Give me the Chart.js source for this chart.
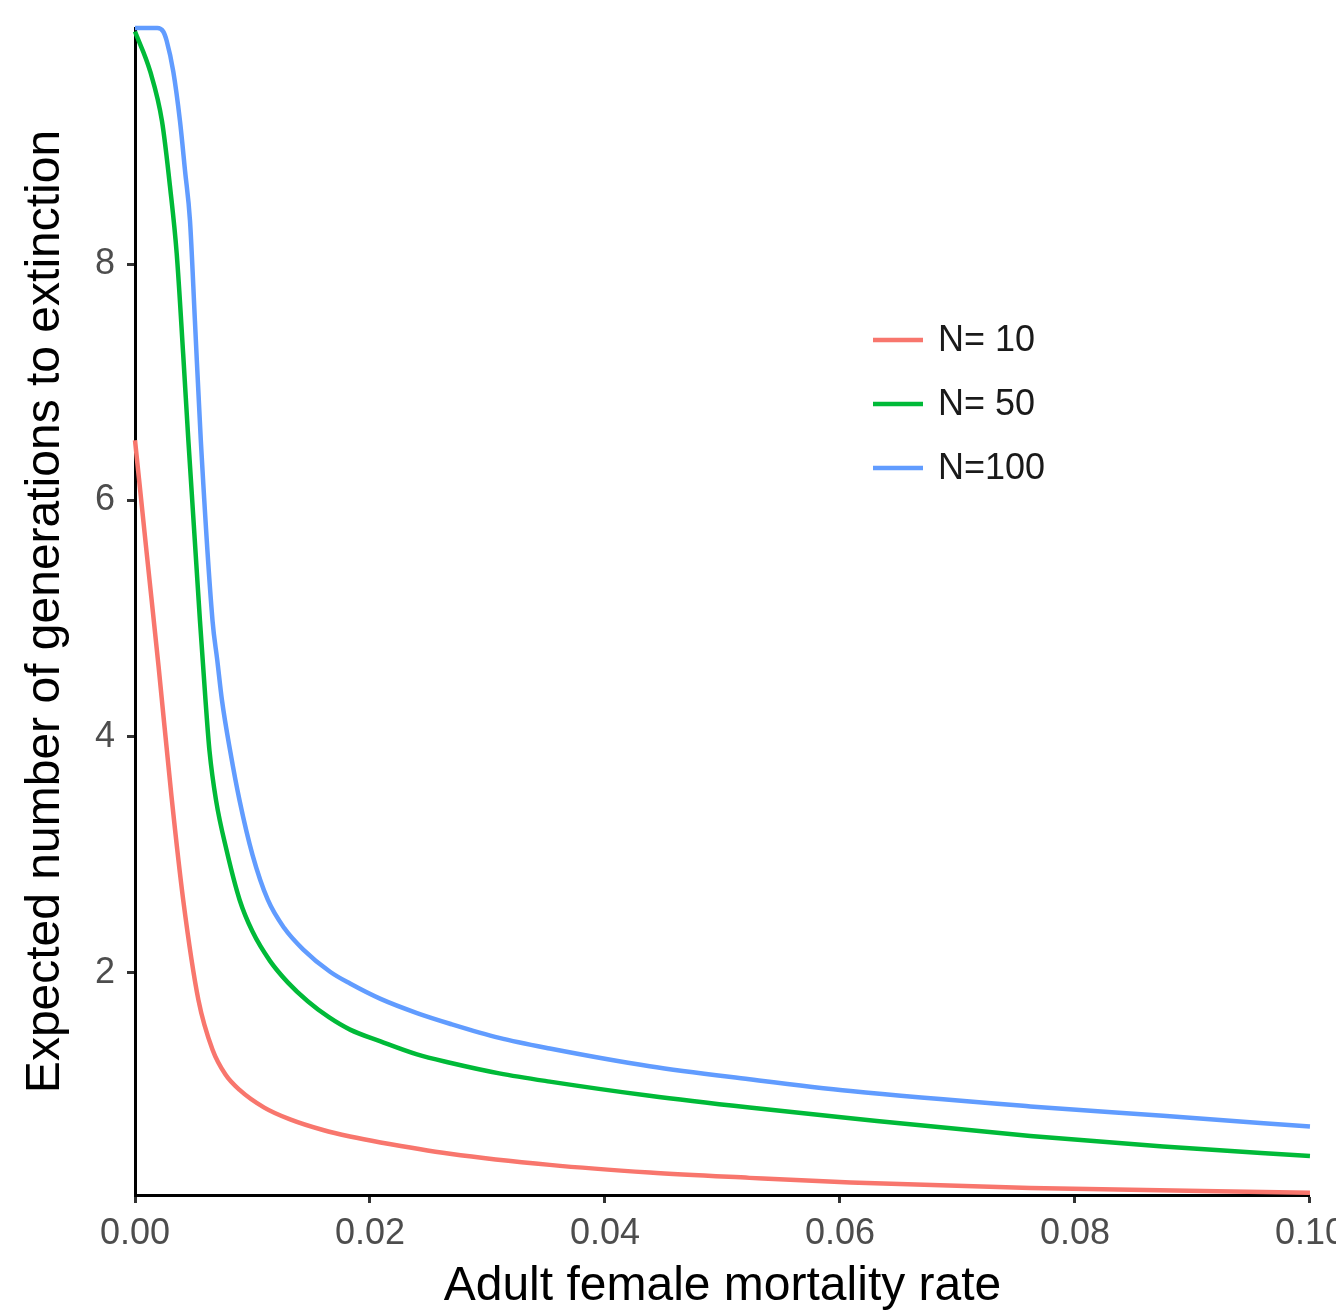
<!DOCTYPE html>
<html>
<head>
<meta charset="utf-8">
<script src="https://cdn.jsdelivr.net/npm/chart.js@4.4.1/dist/chart.umd.min.js"></script>
<style>
  html, body { margin: 0; padding: 0; background: #fff; overflow: hidden; }
  #wrap { position: absolute; left: 0; top: 0; }
</style>
</head>
<body>
<div id="wrap"><canvas id="extinctionChart" width="1354" height="1316"></canvas></div>
<script>
// Values (mortality rate -> expected generations)
const xN10 = [0, 0.0010, 0.0020, 0.0031, 0.0041, 0.0054, 0.0066, 0.0077, 0.0089, 0.0110, 0.0132, 0.0160, 0.0183, 0.0209, 0.0268, 0.0353, 0.0438, 0.0523, 0.0609, 0.0762, 0.1];
const yN10 = [6.51, 5.55, 4.60, 3.50, 2.62, 1.77, 1.35, 1.14, 1.01, 0.86, 0.76, 0.67, 0.615, 0.565, 0.47, 0.375, 0.31, 0.265, 0.225, 0.18, 0.14];

const xN50 = [0, 0.0013, 0.0023, 0.0030, 0.00355, 0.0041, 0.00454, 0.00553, 0.0060, 0.00634, 0.0069, 0.00779, 0.0089, 0.0100, 0.0115, 0.0130, 0.0147, 0.0165, 0.0183, 0.0209, 0.0240, 0.0268, 0.0310, 0.0353, 0.0438, 0.0523, 0.0609, 0.0762, 0.0875, 0.1];
const yN50 = [9.97, 9.63, 9.21, 8.64, 8.09, 7.24, 6.51, 4.98, 4.31, 3.88, 3.46, 3.04, 2.62, 2.35, 2.10, 1.92, 1.76, 1.625, 1.52, 1.42, 1.31, 1.24, 1.15, 1.08, 0.96, 0.86, 0.77, 0.62, 0.53, 0.45];

const xN100 = [0, 0.0019, 0.0024, 0.0027, 0.00326, 0.00383, 0.00426, 0.00468, 0.0051, 0.0056, 0.0066, 0.0070, 0.0074, 0.0081, 0.0089, 0.0100, 0.0113, 0.0127, 0.0143, 0.0166, 0.0183, 0.0209, 0.0240, 0.0268, 0.0310, 0.0353, 0.0438, 0.0523, 0.0609, 0.0762, 0.0875, 0.1];
const yN100 = [10, 10, 9.97, 9.89, 9.63, 9.21, 8.79, 8.37, 7.52, 6.51, 4.98, 4.65, 4.31, 3.88, 3.46, 3.00, 2.62, 2.38, 2.20, 2.01, 1.91, 1.78, 1.66, 1.57, 1.45, 1.36, 1.21, 1.10, 1.00, 0.87, 0.79, 0.70];

const seriesLabels = ['N= 10', 'N= 50', 'N=100'];
const seriesColors = ['#F8766D', '#00BA38', '#619CFF'];

const xTicks = [0, 0.02, 0.04, 0.06, 0.08, 0.10];
const yTicks = [2, 4, 6, 8];

function toPoints(xs, ys) {
    return xs.map((x, i) => ({ x: x, y: ys[i] }));
}

const allSeries = [toPoints(xN10, yN10), toPoints(xN50, yN50), toPoints(xN100, yN100)];

// simple legend drawn inside the plot, ggplot style
const insideLegend = {
    id: 'insideLegend',
    afterDatasetsDraw(chart, args, opts) {
        const ctx = chart.ctx;
        ctx.save();
        ctx.font = opts.font;
        ctx.textBaseline = 'middle';
        ctx.textAlign = 'left';
        chart.data.datasets.forEach((ds, i) => {
            const y = opts.top + i * opts.rowGap;
            ctx.strokeStyle = ds.borderColor;
            ctx.lineWidth = ds.borderWidth;
            ctx.beginPath();
            ctx.moveTo(opts.left, y);
            ctx.lineTo(opts.left + opts.keyWidth, y);
            ctx.stroke();
            ctx.fillStyle = opts.color;
            ctx.fillText(ds.label, opts.left + opts.keyWidth + opts.gap, y + 1);
        });
        ctx.restore();
    }
};

const ctx = document.getElementById('extinctionChart');
new Chart(ctx, {
    type: 'line',
    data: {
        datasets: allSeries.map((pts, i) => ({
            label: seriesLabels[i],
            data: pts,
            borderColor: seriesColors[i],
            backgroundColor: seriesColors[i],
            borderWidth: 4.5,
            pointRadius: 0,
            cubicInterpolationMode: 'monotone',
            fill: false
        }))
    },
    options: {
        responsive: false,
        animation: false,
        clip: false,
        layout: { padding: { top: 28, right: 40, bottom: 0, left: 0 } },
        plugins: {
            legend: { display: false },
            tooltip: { enabled: false },
            insideLegend: {
                left: 873, top: 340, rowGap: 64, keyWidth: 50, gap: 15,
                font: '36px "Liberation Sans", Arial, sans-serif',
                color: '#1a1a1a'
            }
        },
        scales: {
            x: {
                type: 'linear',
                min: 0,
                max: 0.1,
                afterBuildTicks: s => { s.ticks = xTicks.map(v => ({ value: v })); },
                afterFit: s => { s.height = 121; },
                grid: { drawOnChartArea: false, drawTicks: true, tickLength: 8, tickWidth: 3, tickColor: '#333333' },
                border: { display: true, color: '#000000', width: 3 },
                ticks: {
                    padding: 9,
                    maxRotation: 0,
                    color: '#4D4D4D',
                    font: { family: '"Liberation Sans", Arial, sans-serif', size: 36 },
                    callback: v => v.toFixed(2)
                },
                title: {
                    display: true,
                    text: 'Adult female mortality rate',
                    color: '#000000',
                    padding: { top: 0, bottom: 0 },
                    font: { family: '"Liberation Sans", Arial, sans-serif', size: 48 }
                }
            },
            y: {
                type: 'linear',
                min: 0.12,
                max: 10,
                afterBuildTicks: s => { s.ticks = yTicks.map(v => ({ value: v })); },
                afterFit: s => { s.width = 135; s.paddingTop = 0; s.paddingBottom = 0; },
                grid: { drawOnChartArea: false, drawTicks: true, tickLength: 8, tickWidth: 3, tickColor: '#333333' },
                border: { display: true, color: '#000000', width: 3 },
                ticks: {
                    padding: 12,
                    color: '#4D4D4D',
                    font: { family: '"Liberation Sans", Arial, sans-serif', size: 36 },
                    callback: v => String(v)
                },
                title: {
                    display: true,
                    text: 'Expected number of generations to extinction',
                    color: '#000000',
                    padding: { top: 17, bottom: 0 },
                    font: { family: '"Liberation Sans", Arial, sans-serif', size: 48 }
                }
            }
        }
    },
    plugins: [insideLegend]
});
</script>
</body>
</html>
